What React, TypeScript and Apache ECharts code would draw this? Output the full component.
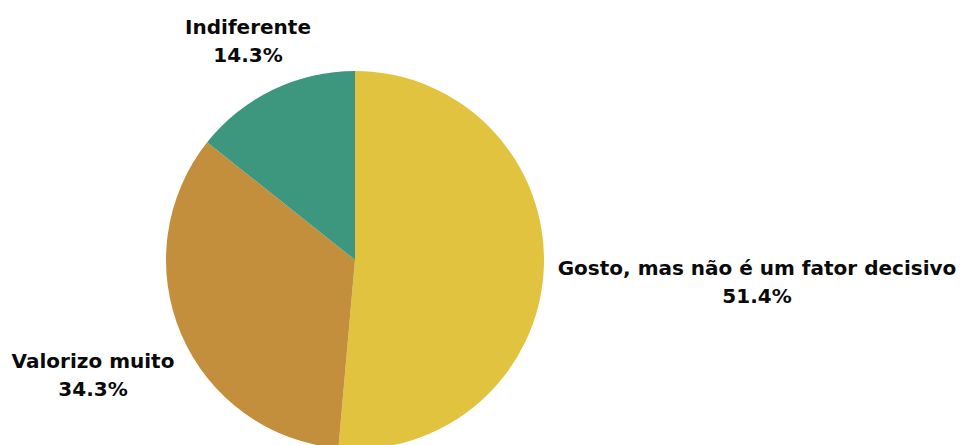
import React, { useEffect, useRef } from "react";
import * as echarts from "echarts";

const categories = ["Gosto, mas não é um fator decisivo", "Valorizo muito", "Indiferente"];
const values = [51.4, 34.3, 14.3];
const colors = ["#E2C33F", "#C48F3C", "#3D977E"];
const labelAnchors = [
  [757, 282],
  [93, 375],
  [248, 41],
];

export default function App() {
  const ref = useRef<HTMLDivElement>(null);
  useEffect(() => {
    if (!ref.current) return;
    const chart = echarts.init(ref.current, undefined, { renderer: "svg" });
    chart.setOption({
      animation: false,
      backgroundColor: "#ffffff",
      series: [
        {
          type: "pie",
          center: [355, 260],
          radius: 189,
          startAngle: 90,
          clockwise: true,
          data: categories.map((name, i) => ({
            name,
            value: values[i],
            itemStyle: { color: colors[i] },
          })),
          label: {
            show: true,
            position: "outside",
            formatter: "{b}\n{c}%",
            color: "#0a0a0a",
            fontFamily: "DejaVu Sans",
            fontWeight: "bold",
            fontSize: 20,
            lineHeight: 28,
            align: "center",
            overflow: "none",
          },
          labelLine: { show: false },
          labelLayout: (params: any) => {
            const a = labelAnchors[params.dataIndex];
            return { x: a[0], y: a[1], align: "center", verticalAlign: "middle" };
          },
          emphasis: { disabled: true },
        },
      ],
    });
    return () => chart.dispose();
  }, []);
  return (
    <div
      ref={ref}
      style={{ position: "fixed", left: 0, top: 0, width: 960, height: 445 }}
    />
  );
}
